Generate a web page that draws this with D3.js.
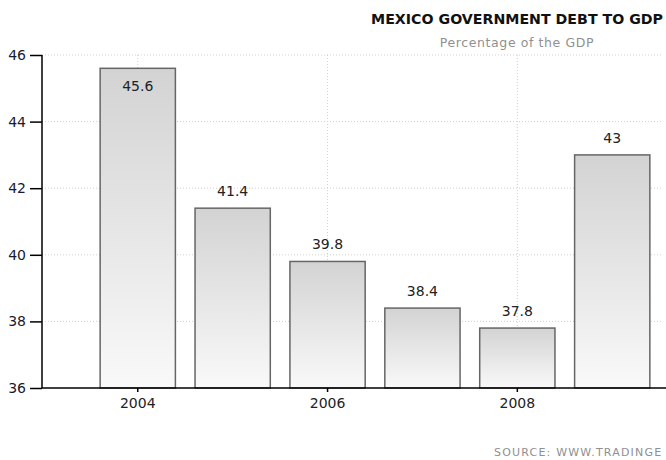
<!DOCTYPE html>
<html>
<head>
<meta charset="utf-8">
<script src="https://cdn.jsdelivr.net/npm/d3@7"></script>
<style>
  body{margin:0;background:#fff;}
  svg{display:block;font-family:"DejaVu Sans",Verdana,sans-serif;}
</style>
</head>
<body>
<svg id="drawing_region"></svg>
<script>
// data
const years = ["2004","2005","2006","2007","2008","2009"];
const debt = [45.6, 41.4, 39.8, 38.4, 37.8, 43];
const yTicks = [36, 38, 40, 42, 44, 46];
const xTickLabels = ["2004","2006","2008"];

const width = 666, height = 460;
const margin = {top:55, right:4, bottom:72, left:42};

const svg = d3.select("#drawing_region")
    .attr("width",width)
    .attr("height",height)

const defs = svg.append("defs")
const grad = defs.append("linearGradient")
    .attr("id","barfill")
    .attr("x1",0).attr("y1",0).attr("x2",0).attr("y2",1)
grad.append("stop").attr("offset","0%").attr("stop-color","#d3d3d3")
grad.append("stop").attr("offset","100%").attr("stop-color","#f9f9f9")

const xscale = d3.scaleBand()
    .domain(years)
    .range([80.5, 669.5])
    .padding(0.207)
const yscale = d3.scaleLinear()
    .domain([36, 46])
    .range([height-margin.bottom, margin.top])

// grid lines
const grid = svg.append("g")
grid.selectAll("line.h")
    .data(yTicks.slice(1))
    .enter()
    .append("line")
    .attr("x1",margin.left)
    .attr("x2",662)
    .attr("y1",d=>yscale(d))
    .attr("y2",d=>yscale(d))
    .attr("stroke","#d0d0d0")
    .attr("stroke-dasharray","1,2")
grid.selectAll("line.v")
    .data(xTickLabels)
    .enter()
    .append("line")
    .attr("x1",d=>xscale(d)+xscale.bandwidth()/2)
    .attr("x2",d=>xscale(d)+xscale.bandwidth()/2)
    .attr("y1",margin.top)
    .attr("y2",height-margin.bottom)
    .attr("stroke","#d0d0d0")
    .attr("stroke-dasharray","1,2")

// bars
svg.selectAll("rect.bar")
    .data(debt)
    .enter()
    .append("rect")
    .attr("class","bar")
    .attr("x",(d,i)=>xscale(years[i]))
    .attr("y",d=>yscale(d))
    .attr("width",xscale.bandwidth())
    .attr("height",d=>yscale(36)-yscale(d))
    .attr("fill","url(#barfill)")
    .attr("stroke","#666")
    .attr("stroke-width",1.5)

// value labels
svg.selectAll("text.val")
    .data(debt)
    .enter()
    .append("text")
    .attr("x",(d,i)=>xscale(years[i])+xscale.bandwidth()/2)
    .attr("y",d=>d>45 ? yscale(d)+23 : yscale(d)-12)
    .attr("text-anchor","middle")
    .attr("font-size",14)
    .attr("fill","#222")
    .text(d=>d)

// y axis
const yaxis = d3.axisLeft(yscale)
    .tickValues(yTicks)
    .tickSize(12)
    .tickPadding(4)
const yg = svg.append("g")
    .attr("transform",`translate(${margin.left},0)`)
    .call(yaxis)
yg.select(".domain").attr("stroke","#000").attr("stroke-width",1.5).attr("d",`M0,${yscale(46)}V${yscale(36)}`)
yg.selectAll(".tick line").attr("stroke","#000").attr("stroke-width",1.5)
yg.selectAll(".tick text").attr("font-size",14).attr("fill","#1a1a2e").attr("font-family","DejaVu Sans")

// x axis
const xaxis = d3.axisBottom(xscale)
    .tickValues(xTickLabels)
    .tickSize(4)
    .tickPadding(6)
const xg = svg.append("g")
    .attr("transform",`translate(0,${yscale(36)})`)
    .call(xaxis)
xg.select(".domain").attr("stroke","#000").attr("stroke-width",1.5).attr("d",`M${margin.left},0H666`)
xg.selectAll(".tick line").attr("stroke","#000").attr("stroke-width",1.5)
xg.selectAll(".tick text").attr("font-size",14).attr("fill","#222").attr("font-family","DejaVu Sans")

// titles
svg.append("text")
    .attr("x",663)
    .attr("y",24)
    .attr("text-anchor","end")
    .attr("font-size",14.2)
    .attr("font-weight","bold")
    .attr("fill","#111")
    .text("MEXICO GOVERNMENT DEBT TO GDP")
svg.append("text")
    .attr("x",517)
    .attr("y",47)
    .attr("text-anchor","middle")
    .attr("font-size",12.5)
    .attr("letter-spacing",0.6)
    .attr("fill","#909090")
    .text("Percentage of the GDP")
svg.append("text")
    .attr("x",494)
    .attr("y",456)
    .attr("font-size",11)
    .attr("letter-spacing",1.2)
    .attr("fill","#909090")
    .text("SOURCE:  WWW.TRADINGE")
</script>
</body>
</html>
